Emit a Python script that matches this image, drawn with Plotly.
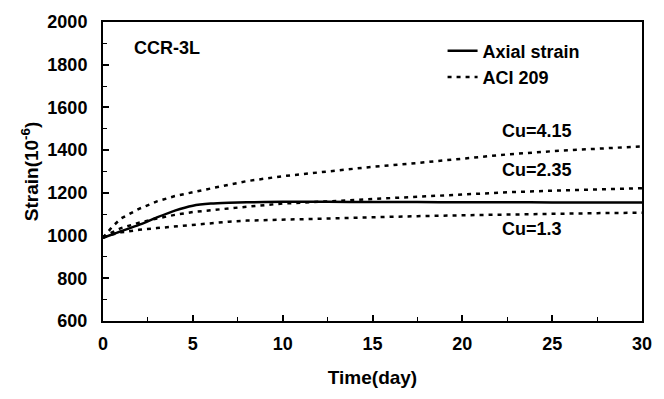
import plotly.graph_objects as go

# ---- data ----
time_day = [0, 0.5, 1, 2, 3, 4, 5, 6, 7, 8, 10, 12.5, 15, 17.5, 20, 22.5, 25, 27.5, 30]
axial_strain = [990, 1005, 1020, 1050, 1085, 1117, 1140, 1150, 1154, 1156, 1158, 1158,
                1157, 1157, 1156, 1156, 1155, 1155, 1155]
aci_cu_415 = [990, 1040, 1080, 1125, 1160, 1185, 1203, 1222, 1238, 1255, 1278, 1300,
              1322, 1340, 1360, 1380, 1395, 1408, 1418]
aci_cu_235 = [990, 1015, 1035, 1060, 1080, 1097, 1110, 1120, 1127, 1135, 1150, 1160,
              1172, 1182, 1192, 1203, 1210, 1217, 1222]
aci_cu_13 = [990, 1005, 1015, 1027, 1035, 1043, 1051, 1058, 1065, 1070, 1075, 1080,
             1087, 1091, 1095, 1099, 1102, 1105, 1107]

x_ticks = [0, 5, 10, 15, 20, 25, 30]
y_ticks = [600, 800, 1000, 1200, 1400, 1600, 1800, 2000]

FONT = "Arial, Liberation Sans, sans-serif"
DOT = "4px,5px"

fig = go.Figure()
fig.add_trace(go.Scatter(x=time_day, y=axial_strain, mode="lines", name="Axial strain",
                         line=dict(color="black", width=2.5, shape="spline", smoothing=0.5),
                         showlegend=True))
fig.add_trace(go.Scatter(x=time_day, y=aci_cu_415, mode="lines", name="ACI 209",
                         line=dict(color="black", width=2.5, dash=DOT), showlegend=True))
fig.add_trace(go.Scatter(x=time_day, y=aci_cu_235, mode="lines", name="ACI 209 Cu=2.35",
                         line=dict(color="black", width=2.5, dash=DOT), showlegend=False))
fig.add_trace(go.Scatter(x=time_day, y=aci_cu_13, mode="lines", name="ACI 209 Cu=1.3",
                         line=dict(color="black", width=2.5, dash=DOT), showlegend=False))

ann_font = dict(family=FONT, size=18, color="black", weight="bold")
fig.add_annotation(x=1.6, y=1878, text="CCR-3L", showarrow=False, xanchor="left",
                   yanchor="middle", font=ann_font)
fig.add_annotation(x=22.1, y=1491, text="Cu=4.15", showarrow=False, xanchor="left",
                   yanchor="middle", font=ann_font)
fig.add_annotation(x=22.1, y=1305, text="Cu=2.35", showarrow=False, xanchor="left",
                   yanchor="middle", font=ann_font)
fig.add_annotation(x=22.1, y=1030, text="Cu=1.3", showarrow=False, xanchor="left",
                   yanchor="middle", font=ann_font)

fig.update_layout(
    width=664, height=399,
    margin=dict(l=103, r=13, t=20, b=78),
    paper_bgcolor="white", plot_bgcolor="white",
    font=dict(family=FONT, size=18, color="black", weight="bold"),
    legend=dict(x=0.63, y=0.965, xanchor="left", yanchor="top",
                bgcolor="rgba(0,0,0,0)", borderwidth=0,
                font=dict(family=FONT, size=18, color="black", weight="bold"),
                tracegroupgap=0, itemwidth=30),
    xaxis=dict(range=[0, 30], tickvals=x_ticks, ticks="inside", ticklen=6, tickwidth=1.5,
               tickcolor="black", showline=True, linecolor="black", linewidth=2,
               mirror=True, showgrid=False, zeroline=False, ticklabelstandoff=5,
               minor=dict(dtick=2.5, ticks="inside", ticklen=4, tickwidth=1, tickcolor="black"),
               tickfont=dict(family=FONT, size=18, color="black", weight="bold"),
               title=dict(text="Time(day)", standoff=18,
                          font=dict(family=FONT, size=19, color="black", weight="bold"))),
    yaxis=dict(range=[600, 2000], tickvals=y_ticks, ticks="inside", ticklen=6, tickwidth=1.5,
               tickcolor="black", showline=True, ticklabelstandoff=10,
               linecolor="black", linewidth=2, mirror=True, showgrid=False, zeroline=False,
               minor=dict(dtick=100, ticks="inside", ticklen=4, tickwidth=1, tickcolor="black"),
               tickfont=dict(family=FONT, size=18, color="black", weight="bold"),
               title=dict(text="Strain(10<sup>-6</sup>)", standoff=4,
                          font=dict(family=FONT, size=19, color="black", weight="bold"))),
)

fig.write_html("out.html")
